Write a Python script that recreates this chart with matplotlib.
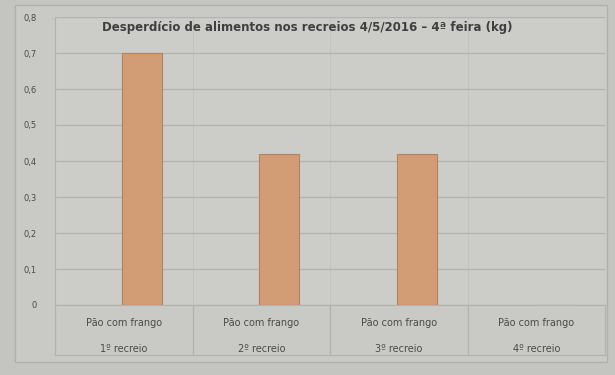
import matplotlib
matplotlib.use("Agg")
import matplotlib.pyplot as plt
import numpy as np
from matplotlib.ticker import FuncFormatter, MultipleLocator
from matplotlib.patches import Rectangle

categories = ["Pão com frango\n1º recreio", "Pão com frango\n2º recreio",
              "Pão com frango\n3º recreio", "Pão com frango\n4º recreio"]
values = [0.70, 0.42, 0.42, 0.0]
title = "Desperdício de alimentos nos recreios 4/5/2016 – 4ª feira (kg)"

bg = "#c4c5c1"
line_c = "#b2b3af"
fig = plt.figure(figsize=(6.15, 3.75), dpi=100, facecolor=bg)
W, H = 615, 375
# chart border
fig.patches.append(Rectangle((15 / W, 13 / H), 592 / W, 357 / H, transform=fig.transFigure,
                             facecolor="#c9cac6", edgecolor="#b0b1ad", linewidth=1.0, zorder=-5))
ax = fig.add_axes([55 / W, 70 / H, 550 / W, 288 / H], facecolor="#cccdc9")
ax.set_zorder(2)

x = np.arange(len(categories))
ax.bar(x + 0.13, values, width=0.29, color="#d29c75", edgecolor="#b5825f", linewidth=0.8, zorder=3)

ax.set_xlim(-0.5, len(categories) - 0.5)
ax.set_ylim(0, 0.8)
ax.yaxis.set_major_locator(MultipleLocator(0.1))
ax.yaxis.set_major_formatter(FuncFormatter(lambda v, p: "0" if abs(v) < 1e-9 else f"{v:.1f}".replace(".", ",")))
ax.grid(axis="y", color=line_c, linewidth=0.9, zorder=0)
for b in x[:-1] + 0.5:
    ax.axvline(b, color="#c2c3bf", linewidth=0.6, zorder=1)

# category label cells below the plot
cell_bottom = -0.14
ax.set_xticks(x)
ax.set_xticklabels(categories, fontsize=7, color="#4a4a4a", linespacing=3.0)
ax.tick_params(axis="x", length=0, pad=9)
for b in np.append(x - 0.5, x[-1] + 0.5):
    ax.plot([b, b], [0, cell_bottom], color=line_c, linewidth=0.9, clip_on=False, zorder=1)
ax.plot([-0.5, x[-1] + 0.5], [cell_bottom, cell_bottom], color=line_c,
        linewidth=0.9, clip_on=False)

ax.tick_params(axis="y", length=0, labelsize=6, colors="#4a4a4a", pad=13)
for s in ["top", "right"]:
    ax.spines[s].set_visible(False)
ax.spines["left"].set_color(line_c)
ax.spines["bottom"].set_color(line_c)

fig.text(0.50, 0.927, title, ha="center", va="center", fontsize=8.5, fontweight="bold",
         color="#3f3f3f", zorder=5)

fig.savefig("out.png", dpi=100, facecolor=bg)
